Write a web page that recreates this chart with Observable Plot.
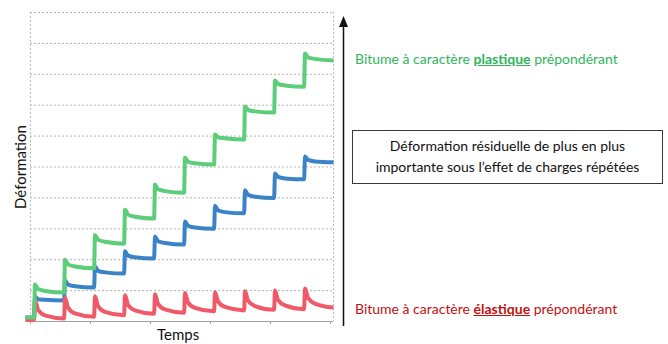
<!DOCTYPE html>
<html>
<head>
<meta charset="utf-8">
<script src="https://cdn.jsdelivr.net/npm/d3@7"></script>
<script src="https://cdn.jsdelivr.net/npm/@observablehq/plot@0.6"></script>
<style>
  html, body { margin: 0; padding: 0; background: #fff; }
  #wrap { position: relative; width: 668px; height: 344px; overflow: hidden; font-family: Lato, "Open Sans", sans-serif; }
  #wrap svg.plot { position: absolute; left: 0; top: 0; }
  .lbl { position: absolute; white-space: nowrap; }
  #ylab { left: 20px; top: 167px; transform: translate(-50%, -50%) rotate(-90deg); font-size: 15px; color: #111; }
  #xlab { left: 157px; top: 325px; font-size: 15px; line-height: 18px; color: #111; }
  #green { left: 355px; top: 50px; font-size: 14px; color: #2fb55a; }
  #red { left: 355px; top: 300px; font-size: 14px; color: #c41010; }
  #green b, #red b { text-decoration: underline; }
  #box { position: absolute; left: 352px; top: 130px; width: 311px; height: 54px; border: 1.5px solid #3a3a3a; box-sizing: border-box; text-align: center; font-size: 14px; line-height: 21px; padding-top: 4px; color: #111; }
  #arrow { position: absolute; left: 0; top: 0; }
</style>
</head>
<body>
<div id="wrap">
  <div id="plot"></div>
  <svg id="arrow" width="668" height="344">
    <line x1="343.5" y1="26" x2="343.5" y2="326" stroke="#111" stroke-width="1.5"/>
    <path d="M343.5,16 L339,27 L348,27 Z" fill="#111"/>
  </svg>
  <div class="lbl" id="ylab">Déformation</div>
  <div class="lbl" id="xlab">Temps</div>
  <div class="lbl" id="green">Bitume à caractère <b>plastique</b> prépondérant</div>
  <div class="lbl" id="red">Bitume à caractère <b>élastique</b> prépondérant</div>
  <div id="box">Déformation résiduelle de plus en plus<br>importante sous l’effet de charges répétées</div>
</div>
<script>
// Time points (arbitrary units, one load cycle per unit)
const times = [
  -0.17, 0.12,
  0.15, 0.25, 0.48, 1.12,
  1.15, 1.25, 1.48, 2.12,
  2.15, 2.25, 2.48, 3.12,
  3.15, 3.25, 3.48, 4.12,
  4.15, 4.25, 4.48, 5.12,
  5.15, 5.25, 5.48, 6.12,
  6.15, 6.25, 6.48, 7.12,
  7.15, 7.25, 7.48, 8.12,
  8.15, 8.25, 8.48, 9.12,
  9.15, 9.25, 9.48, 10.1
];
// Bitume à caractère plastique prépondérant (green)
const plastique = [
  0.13, 0.13,
  1.2, 1.05, 0.99, 0.94,
  2.0, 1.85, 1.78, 1.72,
  2.8, 2.65, 2.58, 2.52,
  3.62, 3.46, 3.39, 3.33,
  4.43, 4.28, 4.22, 4.17,
  5.3, 5.17, 5.12, 5.08,
  6.05, 5.96, 5.93, 5.89,
  6.96, 6.85, 6.8, 6.76,
  7.8, 7.69, 7.64, 7.6,
  8.67, 8.55, 8.5, 8.45
];
// Intermediate bitumen (blue)
const intermediaire = [
  0.13, 0.13,
  0.81, 0.72, 0.70, 0.68,
  1.33, 1.2, 1.14, 1.1,
  1.78, 1.64, 1.59, 1.55,
  2.27, 2.13, 2.08, 2.04,
  2.75, 2.6, 2.54, 2.49,
  3.24, 3.1, 3.04, 3.0,
  3.75, 3.6, 3.54, 3.5,
  4.25, 4.1, 4.04, 4.0,
  4.79, 4.68, 4.63, 4.6,
  5.34, 5.23, 5.18, 5.15
];
// Bitume à caractère élastique prépondérant (red)
const elastique = [
  0.05, 0.05,
  0.71, 0.38, 0.2, 0.1,
  0.78, 0.45, 0.26, 0.15,
  0.82, 0.5, 0.31, 0.2,
  0.85, 0.54, 0.36, 0.25,
  0.88, 0.57, 0.39, 0.28,
  0.92, 0.62, 0.44, 0.33,
  0.95, 0.65, 0.47, 0.36,
  0.98, 0.68, 0.5, 0.38,
  1.0, 0.7, 0.52, 0.4,
  1.07, 0.77, 0.58, 0.45
];
const gridLevels = [1, 2, 3, 4, 5, 6, 7, 8, 9, 10];
const xTicks = [0, 2, 4, 6, 8, 10];

const series = [
  {name: "intermediaire", values: intermediaire, color: "#3a83c6"},
  {name: "elastique", values: elastique, color: "#f05a68"},
  {name: "plastique", values: plastique, color: "#5ccd79"}
];

const lineMarks = series.map(s =>
  Plot.line(times.map((t, i) => ({t, v: s.values[i]})), {
    x: "t", y: "v", stroke: s.color, strokeWidth: 4,
    curve: "monotone-x", strokeLinejoin: "round", strokeLinecap: "butt"
  })
);

const chart = Plot.plot({
  width: 668,
  height: 344,
  marginLeft: 30,
  marginRight: 335,
  marginTop: 12,
  marginBottom: 23,
  x: {domain: [0, 10.1], axis: null},
  y: {domain: [0, 10], axis: null},
  marks: [
    Plot.ruleY(gridLevels, {stroke: "#b5b5b5", strokeDasharray: "2,2", strokeWidth: 1}),
    Plot.ruleX([0, 10.1], {stroke: "#bdbdbd", strokeDasharray: "2,2", strokeWidth: 1}),
    Plot.ruleY([0], {stroke: "#a0a0a0", strokeWidth: 1}),
    Plot.axisX({ticks: xTicks, tickSize: 3, tickFormat: () => "", stroke: "#a0a0a0", label: null}),
    ...lineMarks
  ]
});
chart.classList.add("plot");
document.getElementById("plot").appendChild(chart);
</script>
</body>
</html>
